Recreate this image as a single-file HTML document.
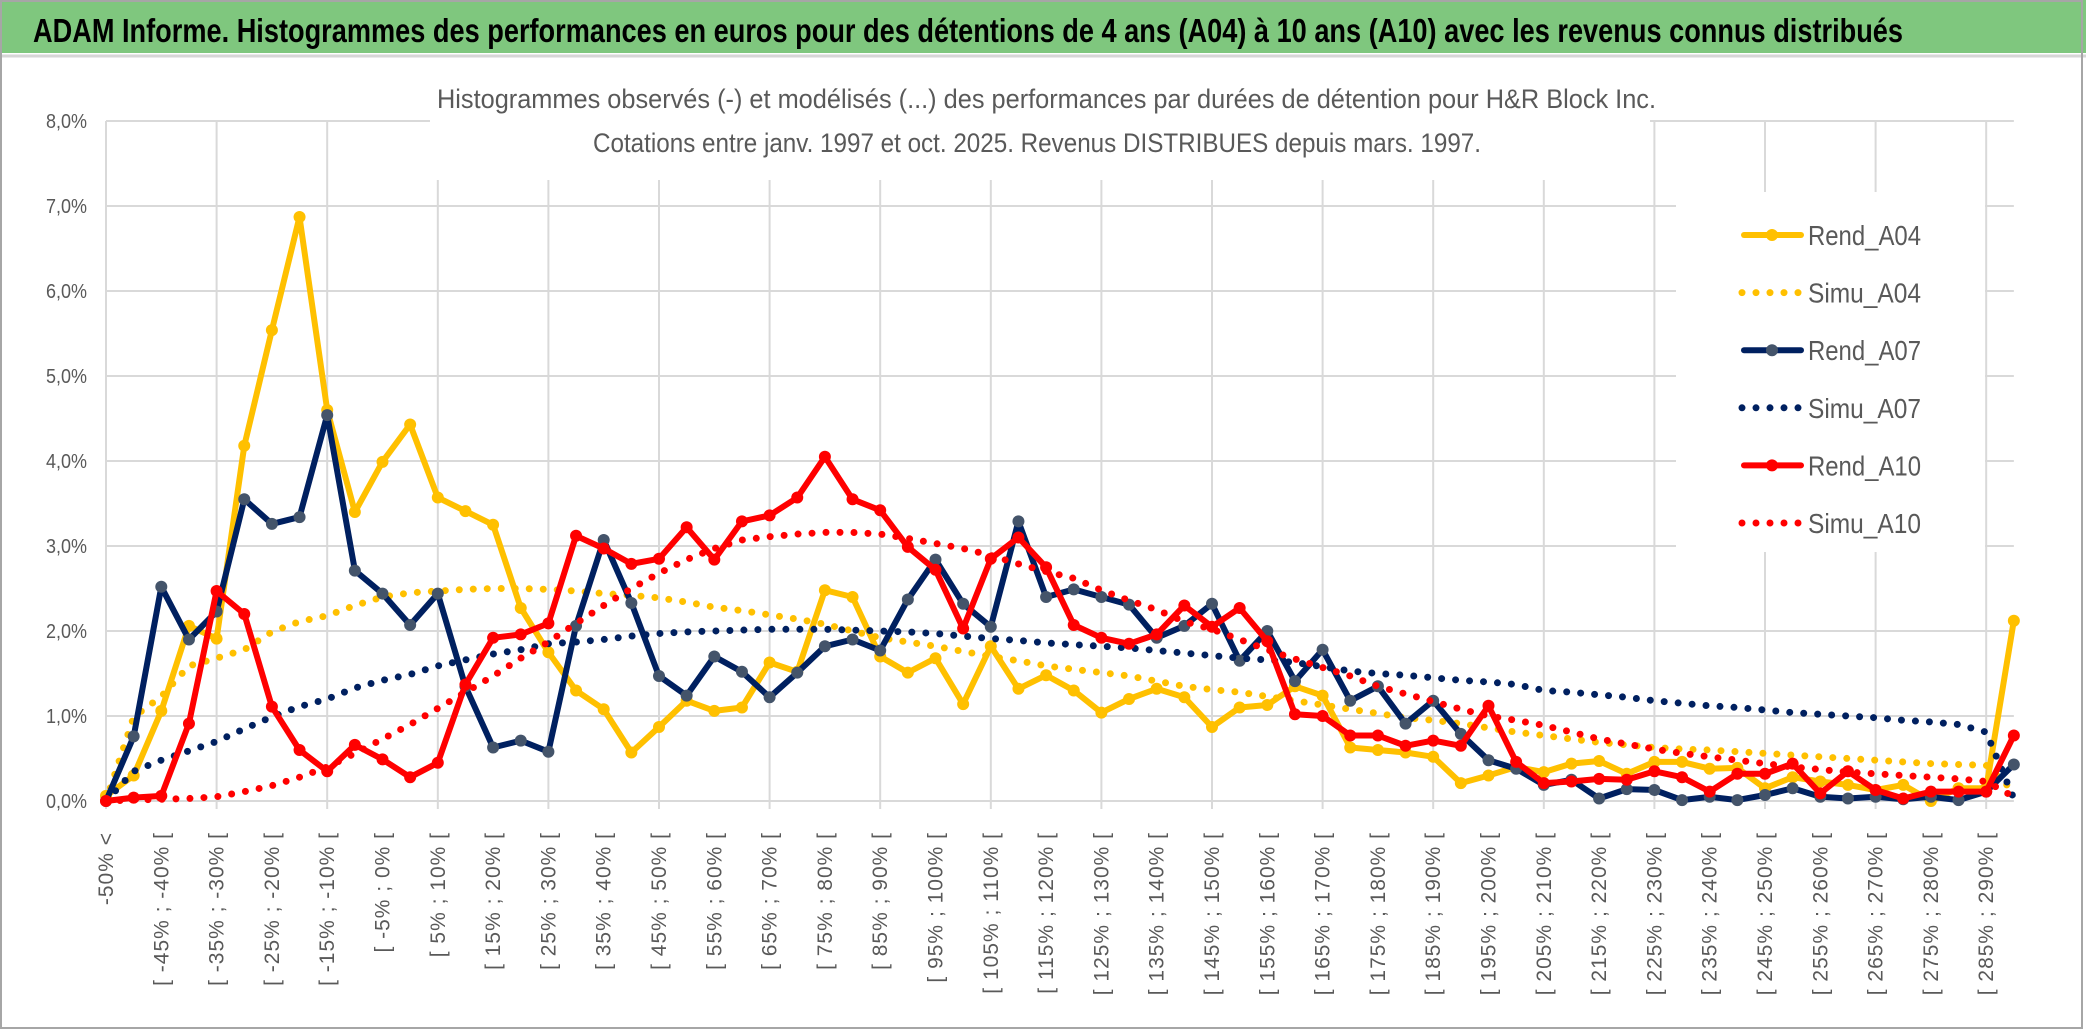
<!DOCTYPE html>
<html>
<head>
<meta charset="utf-8">
<style>
html,body{margin:0;padding:0;background:#fff;}
svg{display:block;}
text{font-family:"Liberation Sans","DejaVu Sans",sans-serif;}
</style>
</head>
<body>
<svg id="chart" width="2086" height="1033" viewBox="0 0 2086 1033" xmlns="http://www.w3.org/2000/svg">
  <rect x="0" y="0" width="2086" height="1033" fill="#ffffff"/>
  <rect x="0" y="0" width="2086" height="53" fill="#7fc77e"/>
  <line x1="0" y1="56" x2="2086" y2="56" stroke="#d6d6d6" stroke-width="3"/>
  <rect x="1" y="1" width="2081" height="1027" fill="none" stroke="#a6a6a6" stroke-width="2"/>
  <text x="33" y="42" font-size="33" font-weight="bold" fill="#000" textLength="1870" lengthAdjust="spacingAndGlyphs">ADAM Informe. Histogrammes des performances en euros pour des détentions de 4 ans (A04) à 10 ans (A10) avec les revenus connus distribués</text>
  <g id="grid"></g>
  <rect x="430" y="60" width="1220" height="120" fill="#ffffff"/>
  <text x="437" y="108" font-size="27" fill="#595959" textLength="1219" lengthAdjust="spacingAndGlyphs">Histogrammes observés (-) et modélisés (...) des performances par durées de détention pour H&amp;R Block Inc.</text>
  <text x="593" y="152" font-size="27" fill="#595959" textLength="888" lengthAdjust="spacingAndGlyphs">Cotations entre janv. 1997 et oct. 2025. Revenus DISTRIBUES depuis mars. 1997.</text>
  <g id="yaxis"></g>
  <g id="xaxis"></g>
  <g id="series"></g>
  <g id="legend"></g>
</svg>
<script>
const categories = [];
categories.push("-50% <");
for (let i = 1; i < 70; i++) { categories.push("[ " + (-50 + 5 * (i - 1)) + "% ; " + (-45 + 5 * (i - 1)) + "% ["); }
const yTicks = [0,1,2,3,4,5,6,7,8];
const yTickLabels = ["0,0%","1,0%","2,0%","3,0%","4,0%","5,0%","6,0%","7,0%","8,0%"];
const rendA04 = [0.06,0.3,1.06,2.06,1.91,4.18,5.54,6.87,4.6,3.4,3.99,4.43,3.57,3.41,3.25,2.27,1.75,1.3,
1.08,0.57,0.87,1.18,1.06,1.1,1.63,1.52,2.48,2.4,1.7,1.51,1.68,1.14,1.82,1.32,1.48,1.3,
1.04,1.2,1.32,1.22,0.87,1.1,1.13,1.35,1.24,0.63,0.6,0.57,0.52,0.21,0.3,0.4,0.34,
0.44,0.47,0.32,0.46,0.46,0.38,0.39,0.15,0.28,0.23,0.19,0.13,0.19,0.0,0.15,0.15,2.12];
const simuA04 = [0,0.99,1.23,1.59,1.68,1.78,1.99,2.11,2.18,2.3,2.4,2.45,2.47,2.49,2.5,2.5,2.49,2.47,
2.44,2.42,2.39,2.34,2.28,2.24,2.19,2.14,2.08,2.0,1.92,1.87,1.82,1.76,1.7,1.65,1.59,1.55,
1.51,1.47,1.41,1.35,1.31,1.28,1.23,1.18,1.13,1.08,1.03,0.98,0.95,0.91,0.86,0.81,0.77,
0.73,0.69,0.66,0.63,0.61,0.6,0.58,0.56,0.54,0.52,0.5,0.48,0.46,0.44,0.43,0.42,0.11];
const rendA07 = [0,0.76,2.52,1.9,2.23,3.55,3.26,3.34,4.54,2.71,2.44,2.07,2.44,1.35,0.63,0.71,0.58,2.06,
3.07,2.33,1.47,1.24,1.7,1.52,1.22,1.51,1.82,1.9,1.77,2.37,2.84,2.32,2.05,3.29,2.4,2.49,
2.4,2.31,1.92,2.06,2.32,1.65,2.0,1.41,1.78,1.18,1.35,0.91,1.18,0.79,0.48,0.38,0.19,
0.25,0.03,0.14,0.13,0.01,0.05,0.01,0.07,0.15,0.05,0.03,0.05,0.02,0.05,0.01,0.11,0.43];
const simuA07 = [0,0.35,0.48,0.59,0.7,0.85,0.99,1.11,1.2,1.33,1.42,1.49,1.59,1.66,1.73,1.78,1.85,1.87,
1.9,1.94,1.97,1.99,2.0,2.01,2.02,2.02,2.02,2.01,2.0,1.99,1.97,1.94,1.91,1.89,1.86,1.84,
1.82,1.8,1.77,1.74,1.71,1.68,1.66,1.63,1.58,1.53,1.5,1.48,1.45,1.42,1.4,1.37,1.3,
1.28,1.25,1.22,1.18,1.15,1.12,1.1,1.07,1.04,1.02,1.0,0.98,0.95,0.93,0.9,0.81,0.03];
const rendA10 = [0,0.04,0.06,0.91,2.47,2.2,1.11,0.6,0.35,0.66,0.49,0.28,0.45,1.37,1.92,1.96,2.09,3.12,
2.97,2.79,2.85,3.22,2.84,3.29,3.36,3.57,4.05,3.55,3.42,2.99,2.72,2.03,2.85,3.1,2.75,2.07,
1.92,1.85,1.96,2.3,2.05,2.27,1.88,1.02,1.0,0.77,0.77,0.65,0.71,0.65,1.12,0.46,0.21,
0.23,0.26,0.25,0.35,0.28,0.11,0.32,0.32,0.44,0.09,0.35,0.13,0.03,0.11,0.11,0.11,0.77];
const simuA10 = [0,0.01,0.02,0.03,0.05,0.11,0.18,0.28,0.4,0.56,0.73,0.9,1.09,1.28,1.47,1.68,1.87,2.09,
2.3,2.5,2.68,2.84,2.97,3.07,3.11,3.14,3.16,3.16,3.14,3.09,3.03,2.97,2.89,2.79,2.7,2.62,
2.48,2.36,2.25,2.11,2.02,1.9,1.78,1.67,1.57,1.47,1.35,1.26,1.17,1.08,1.0,0.95,0.89,
0.81,0.73,0.67,0.61,0.56,0.52,0.48,0.44,0.4,0.37,0.34,0.32,0.3,0.28,0.26,0.23,0.05];
const seriesNames = ["Rend_A04","Simu_A04","Rend_A07","Simu_A07","Rend_A10","Simu_A10"];

const NS = "http://www.w3.org/2000/svg";
const X0 = 106, DX = 27.65, Y0 = 801, DY = 85;
function xs(i){ return X0 + i * DX; }
function ys(v){ return Y0 - v * DY; }
function mk(tag, attrs, parent){ const e = document.createElementNS(NS, tag); for (const k in attrs) e.setAttribute(k, attrs[k]); parent.appendChild(e); return e; }

const grid = document.getElementById("grid");
const xRight = xs(categories.length - 1);
yTicks.forEach(function(t){
  const l = mk("line", {x1: X0, x2: xRight, y1: ys(t), y2: ys(t), stroke: "#d9d9d9", "stroke-width": 2}, grid);
  
  
});
for (let i = 0; i < categories.length; i += 4) {
  const l = mk("line", {x1: xs(i), x2: xs(i), y1: ys(8), y2: Y0 + 8, stroke: "#d9d9d9", "stroke-width": 2}, grid);
  
  
}

const yaxis = document.getElementById("yaxis");
yTicks.forEach(function(t, i){
  const tx = mk("text", {x: 87, y: ys(t) + 7, "text-anchor": "end", "font-size": 20, fill: "#595959", textLength: 41, lengthAdjust: "spacingAndGlyphs"}, yaxis);
  tx.textContent = yTickLabels[i];
  
  
});

const xaxis = document.getElementById("xaxis");
for (let i = 0; i < categories.length; i += 2) {
  const x = xs(i) + 7, y = 832;
  const tx = mk("text", {x: x, y: y, "text-anchor": "end", "font-size": 21, fill: "#595959", "letter-spacing": "1", transform: "rotate(-90 " + x + " " + y + ")"}, xaxis);
  tx.textContent = categories[i];
  
  
}

const seriesG = document.getElementById("series");
function pts(arr){ return arr.map(function(v, i){ return xs(i).toFixed(1) + "," + ys(v).toFixed(1); }).join(" "); }
function drawRend(arr, color, markerColor, name){
  const g = mk("g", {}, seriesG);
  
  
  const pl = mk("polyline", {points: pts(arr), fill: "none", stroke: color, "stroke-width": 6, "stroke-linejoin": "round"}, g);
  
  
  arr.forEach(function(v, i){
    const c = mk("circle", {cx: xs(i), cy: ys(v), r: 6, fill: markerColor}, g);
    
    
  });
}
function drawSimu(arr, color, name){
  const pl = mk("polyline", {points: pts(arr), fill: "none", stroke: color, "stroke-width": 7, "stroke-linecap": "round", "stroke-dasharray": "0 14"}, seriesG);
  
  
}
drawRend(rendA04, "#ffc000", "#ffc000", "rend-a04");
drawSimu(simuA04, "#ffc000", "simu-a04");
drawRend(rendA07, "#002060", "#44546a", "rend-a07");
drawSimu(simuA07, "#002060", "simu-a07");
drawRend(rendA10, "#ff0000", "#ff0000", "rend-a10");
drawSimu(simuA10, "#ff0000", "simu-a10");

const legend = document.getElementById("legend");
const lb = mk("rect", {x: 1676, y: 192, width: 309, height: 360, fill: "#ffffff"}, legend);


const legColors = ["#ffc000","#ffc000","#002060","#002060","#ff0000","#ff0000"];
const legMarker = ["#ffc000","#ffc000","#44546a","#44546a","#ff0000","#ff0000"];
seriesNames.forEach(function(n, i){
  const y = 235 + i * 57.6;
  const g = mk("g", {}, legend);
  
  
  if (i % 2 === 0) {
    mk("line", {x1: 1744, x2: 1801, y1: y, y2: y, stroke: legColors[i], "stroke-width": 6, "stroke-linecap": "round"}, g);
    mk("circle", {cx: 1772, cy: y, r: 6, fill: legMarker[i]}, g);
  } else {
    mk("line", {x1: 1742, x2: 1803, y1: y, y2: y, stroke: legColors[i], "stroke-width": 7, "stroke-linecap": "round", "stroke-dasharray": "0 14"}, g);
  }
  const t = mk("text", {x: 1808, y: y + 10, "font-size": 28, fill: "#595959", textLength: 113, lengthAdjust: "spacingAndGlyphs"}, g);
  t.textContent = n;
  
  
});
</script>
</body>
</html>
